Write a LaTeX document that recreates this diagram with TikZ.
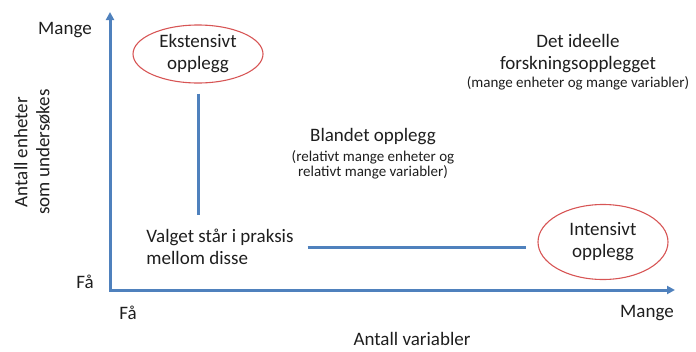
\documentclass[tikz,border=0pt]{standalone}
\usepackage{fontspec}
\setmainfont{Carlito}
\usetikzlibrary{arrows.meta,positioning,shapes.geometric}
\definecolor{axisblue}{RGB}{79,129,189}
\definecolor{ovalred}{RGB}{215,85,85}
\definecolor{txtgray}{RGB}{30,30,30}
\tikzset{
	quadrant diagram/.style={
		x=1pt, y=-1pt,
		every node/.style={inner sep=0pt, text=txtgray,
			font=\fontsize{19}{22}\selectfont}},
	axis/.style={draw=axisblue, line width=3pt, line join=miter,
		{Triangle[length=8pt,width=8pt]}-{Triangle[length=8pt,width=8pt]}},
	link/.style={draw=axisblue, line width=3pt},
	oval/.style={ellipse, draw=ovalred, line width=1.1pt, align=center, minimum width=130pt},
	head/.style={align=center},
	note/.style={align=center, font=\fontsize{15}{15}\selectfont}
}

\begin{document}
\begin{tikzpicture}[quadrant diagram]
	\useasboundingbox (0,0) rectangle (696,351);
	\coordinate (origin) at (110,290);
	\coordinate (ytip) at (110,12);
	\coordinate (xtip) at (675,290);
	\draw[axis] (ytip) -- (origin) -- (xtip);
	% axis labels
	\node (mangeY) at (65,30) {Mange};
	\node (faY) at (85,282) {Få};
	\node (faX) at (128,313) {Få};
	\node (mangeX) at (647,313) {Mange};
	\node (xlab) at (412,339) {Antall variabler};
	\node[rotate=90, align=center] (ylab) at (32,152) {Antall enheter\\som undersøkes};
	% designs
	\node[oval, minimum height=58pt] (ekst) at (198,54) {Ekstensivt\\opplegg};
	\node[oval, minimum height=75pt] (intens) at (603,242) {Intensivt\\opplegg};
	\node[align=left] (valg) at (220,247) {Valget står i praksis\\mellom disse};
	\node[head] (bland) at (373,137) {Blandet opplegg};
	\node[note, below=5pt of bland] (blandsub) {(relativt mange enheter og\\relativt mange variabler)};
	\node[head] (ideell) at (578,54) {Det ideelle\\forskningsopplegget};
	\node[note, below=3pt of ideell] (ideellsub) {(mange enheter og mange variabler)};
	\draw[link, shorten <=10pt, shorten >=14pt] (ekst.south) -- (ekst.south |- valg.north);
	\draw[link, shorten <=14pt, shorten >=11pt] (valg.east) -- (valg.east -| intens.west);
\end{tikzpicture}
\end{document}
